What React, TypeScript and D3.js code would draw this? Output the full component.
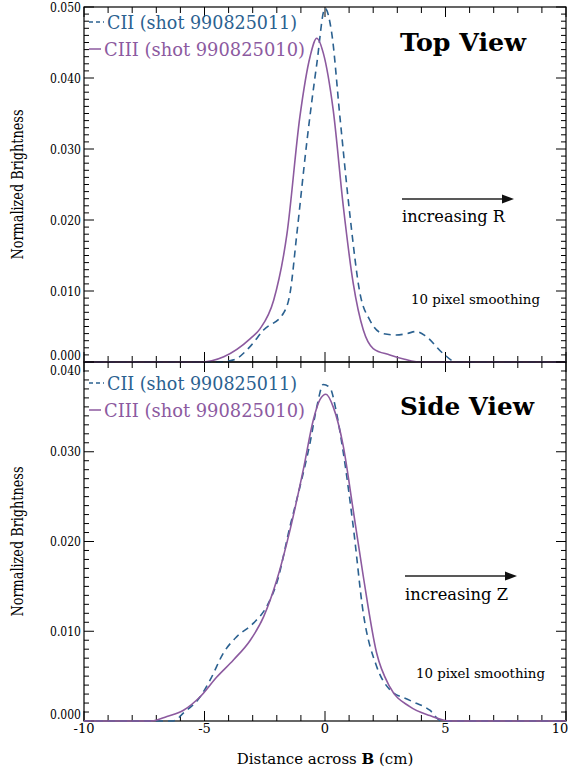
import React, { useEffect, useRef } from 'react';
import * as d3 from 'd3';

// top view (R direction), normalized brightness vs distance across B
const topCIIx = [-10, -4.5, -3.8, -3.1, -2.55, -1.72, -1.45, -1.17, -0.76, -0.34, 0, 0.28, 0.62, 1.04, 1.45, 1.86, 2.4, 2.95, 3.4, 3.78, 4.2, 4.9, 5.45, 10];
const topCIIy = [0, 0, 0.0003, 0.0022, 0.0045, 0.0069, 0.0097, 0.018, 0.0308, 0.042, 0.0498, 0.0463, 0.0345, 0.0205, 0.0097, 0.0059, 0.004, 0.0038, 0.004, 0.0043, 0.0036, 0.0012, 0, 0];
const topCIIIx = [-10, -5.2, -4.2, -3.1, -2.69, -2.13, -1.58, -1.04, -0.62, -0.34, -0.07, 0.34, 0.76, 1.17, 1.59, 2.0, 2.69, 3.3, 3.93, 10];
const topCIIIy = [0, 0, 0.00075, 0.0033, 0.0047, 0.0087, 0.018, 0.0346, 0.043, 0.0456, 0.0435, 0.0355, 0.0219, 0.0111, 0.0045, 0.0019, 0.001, 0.0004, 0, 0];

// side view (Z direction)
const sideCIIx = [-10, -6.3, -5.87, -5.18, -4.76, -4.21, -3.66, -2.97, -2.41, -2.0, -1.45, -1.04, -0.62, -0.34, -0.07, 0.21, 0.48, 0.76, 1.17, 1.59, 2.14, 2.69, 3.52, 4.35, 4.83, 10];
const sideCIIy = [0, 0, 0.0009, 0.0027, 0.0046, 0.0076, 0.0094, 0.0109, 0.0128, 0.0154, 0.0217, 0.0261, 0.031, 0.035, 0.0375, 0.0371, 0.0343, 0.0299, 0.0217, 0.012, 0.0061, 0.0035, 0.0023, 0.0012, 0, 0];
const sideCIIIx = [-10, -7.2, -6.56, -5.87, -5.18, -4.49, -3.8, -3.1, -2.55, -2.0, -1.45, -0.9, -0.48, -0.21, 0.04, 0.34, 0.76, 1.17, 1.59, 2.14, 2.69, 3.52, 4.35, 5.2, 10];
const sideCIIIy = [0, 0, 0.0005, 0.0012, 0.0027, 0.0049, 0.0068, 0.009, 0.0116, 0.0157, 0.0213, 0.028, 0.0336, 0.0358, 0.0364, 0.035, 0.0306, 0.0235, 0.0161, 0.0076, 0.0038, 0.0016, 0.0006, 0, 0];

const xTicks = [-10, -5, 0, 5, 10];
const topYTicks = [0, 0.01, 0.02, 0.03, 0.04, 0.05];
const sideYTicks = [0, 0.01, 0.02, 0.03, 0.04];
const legendNames = ['CII (shot 990825011)', 'CIII (shot 990825010)'];

const BLUE = '#2b6190';
const PURPLE = '#8c5a9f';
const SERIF = "'DejaVu Serif', serif";

export default function App() {
  const svgRef = useRef<SVGSVGElement>(null);

  useEffect(() => {
    if (!svgRef.current) return;
    const svg = d3.select(svgRef.current);
    svg.selectAll('*').remove();

    const left = 84, right = 566;
    const x = d3.scaleLinear().domain([-10, 10]).range([left, right]);

    // serif text, optionally squeezed to the width the reference shows
    const txt = (sel: any, size: number, width?: number) => {
      sel.attr('font-family', SERIF).attr('font-size', size);
      if (width) sel.attr('textLength', width).attr('lengthAdjust', 'spacingAndGlyphs');
      return sel;
    };

    const panels = [
      { top: 7, bottom: 362, max: 0.05, ticks: topYTicks, cii: [topCIIx, topCIIy], ciii: [topCIIIx, topCIIIy], title: 'Top View', titleW: 126, dir: 'increasing R', arrowY: 199, dirY: 222, smoothY: 304, smoothX: 411, legendY: 22, titleY: 51, dirX: 402 },
      { top: 362, bottom: 721, max: 0.04, ticks: sideYTicks, cii: [sideCIIx, sideCIIy], ciii: [sideCIIIx, sideCIIIy], title: 'Side View', titleW: 134, dir: 'increasing Z', arrowY: 576, dirY: 600, smoothY: 678, smoothX: 416, legendY: 383, titleY: 415, dirX: 405 },
    ];

    panels.forEach((p, pi) => {
      const y = d3.scaleLinear().domain([0, p.max]).range([p.bottom, p.top]);
      const g = svg.append('g');

      // frame
      g.append('rect')
        .attr('x', left).attr('y', p.top)
        .attr('width', right - left).attr('height', p.bottom - p.top)
        .attr('fill', 'none').attr('stroke', '#000').attr('stroke-width', 1.2);

      // x ticks: minor each 1 cm, major each 5
      d3.range(-10, 10.001, 1).forEach(v => {
        const major = Math.abs(v % 5) < 1e-9;
        const len = major ? 10 : 6;
        g.append('line').attr('x1', x(v)).attr('x2', x(v))
          .attr('y1', p.bottom).attr('y2', p.bottom - len)
          .attr('stroke', '#000').attr('stroke-width', 1);
        g.append('line').attr('x1', x(v)).attr('x2', x(v))
          .attr('y1', p.top).attr('y2', p.top + len)
          .attr('stroke', '#000').attr('stroke-width', 1);
      });

      // y ticks: minor each 0.001
      d3.range(0, Math.round(p.max * 1000) + 1).forEach(i => {
        const v = i / 1000;
        const major = i % 10 === 0;
        const len = major ? 10 : 5;
        g.append('line').attr('x1', left).attr('x2', left + len)
          .attr('y1', y(v)).attr('y2', y(v)).attr('stroke', '#000').attr('stroke-width', 1);
        g.append('line').attr('x1', right).attr('x2', right - len)
          .attr('y1', y(v)).attr('y2', y(v)).attr('stroke', '#000').attr('stroke-width', 1);
      });

      p.ticks.forEach((v, i) => {
        let off = 0;
        if (i === 0) off = -7;
        if (pi === 1 && i === p.ticks.length - 1) off = 8;
        txt(g.append('text').attr('x', 81).attr('y', y(v) + off).attr('dy', '0.35em')
          .attr('text-anchor', 'end'), 13, 31)
          .text(d3.format('.3f')(v));
      });

      // curves
      const line = d3.line<[number, number]>()
        .x(d => x(d[0])).y(d => y(d[1]))
        .curve(d3.curveMonotoneX);
      const ciiPts = p.cii[0].map((v, i) => [v, p.cii[1][i]] as [number, number]);
      const ciiiPts = p.ciii[0].map((v, i) => [v, p.ciii[1][i]] as [number, number]);
      g.append('path').attr('d', line(ciiPts)).attr('fill', 'none')
        .attr('stroke', BLUE).attr('stroke-width', 1.6).attr('stroke-dasharray', '7,5');
      g.append('path').attr('d', line(ciiiPts)).attr('fill', 'none')
        .attr('stroke', PURPLE).attr('stroke-width', 1.6);

      // legend
      const ly = p.legendY;
      g.append('line').attr('x1', 89).attr('x2', 104).attr('y1', ly).attr('y2', ly)
        .attr('stroke', BLUE).attr('stroke-width', 1.5).attr('stroke-dasharray', '4,3');
      txt(g.append('text').attr('x', 107).attr('y', ly + 7).attr('fill', BLUE), 18, 190).text(legendNames[0]);
      g.append('line').attr('x1', 89).attr('x2', 101).attr('y1', ly + 27).attr('y2', ly + 27)
        .attr('stroke', PURPLE).attr('stroke-width', 1.5);
      txt(g.append('text').attr('x', 104).attr('y', ly + 34).attr('fill', PURPLE), 18, 201).text(legendNames[1]);

      txt(g.append('text').attr('x', 400).attr('y', p.titleY), 25, p.titleW)
        .attr('font-weight', 'bold').text(p.title);

      // direction arrow
      g.append('line').attr('x1', p.dirX).attr('x2', p.dirX + 102)
        .attr('y1', p.arrowY).attr('y2', p.arrowY).attr('stroke', '#222').attr('stroke-width', 1.3);
      g.append('path')
        .attr('d', `M${p.dirX + 112},${p.arrowY} l-12,-4.5 l0,9 z`).attr('fill', '#111');
      txt(g.append('text').attr('x', p.dirX).attr('y', p.dirY), 16, 103).text(p.dir);
      txt(g.append('text').attr('x', p.smoothX).attr('y', p.smoothY), 13, 129).text('10 pixel smoothing');

      txt(g.append('text')
        .attr('transform', `translate(23,${(p.top + p.bottom) / 2}) rotate(-90)`)
        .attr('text-anchor', 'middle'), 16, 150)
        .text('Normalized Brightness');
    });

    xTicks.forEach(v => {
      txt(svg.append('text').attr('x', Math.min(x(v), 560)).attr('y', 733).attr('text-anchor', 'middle'), 13)
        .text(String(v));
    });

    const xt = txt(svg.append('text').attr('x', 325).attr('y', 764).attr('text-anchor', 'middle'), 15);
    xt.append('tspan').text('Distance across ');
    xt.append('tspan').attr('font-weight', 'bold').text('B');
    xt.append('tspan').text(' (cm)');
  }, []);

  return (
    <div style={{ position: 'absolute', left: 0, top: 0 }}>
      <svg ref={svgRef} width={568} height={772} style={{ display: 'block', background: '#fff' }} />
    </div>
  );
}
